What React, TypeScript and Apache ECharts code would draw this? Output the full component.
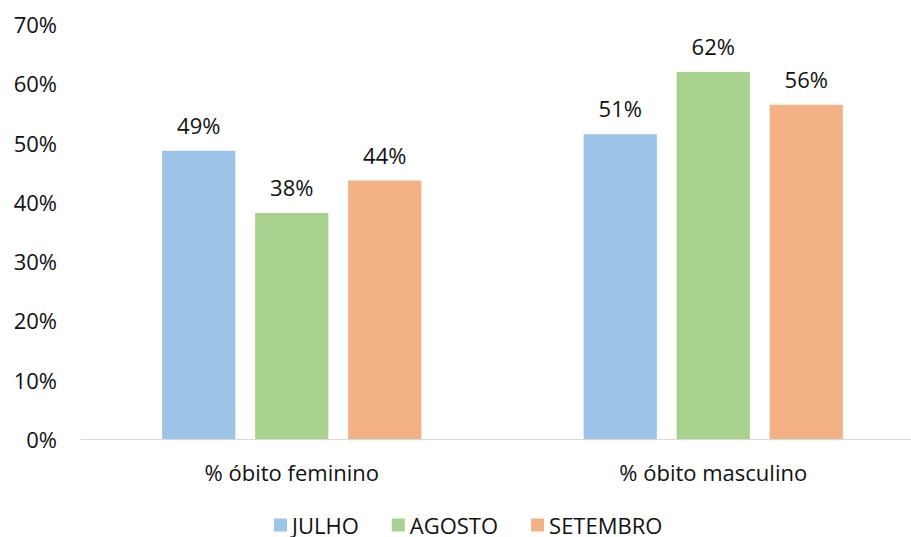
import React, { useEffect, useRef } from "react";
import * as echarts from "echarts";

const categories = ["% óbito feminino", "% óbito masculino"];
const julho = [48.6, 51.4];
const agosto = [38.1, 61.9];
const setembro = [43.6, 56.4];
const yTicks = [0, 10, 20, 30, 40, 50, 60, 70];

const FONT = "'Open Sans', 'Noto Sans', sans-serif";
const TXT = "#111111";
const FS = 22;

export default function App() {
  const ref = useRef<HTMLDivElement>(null);
  useEffect(() => {
    if (!ref.current) return;
    const chart = echarts.init(ref.current, null, { renderer: "svg" });
    const label = {
      show: true,
      position: "top" as const,
      distance: 15,
      formatter: (p: any) => Math.round(p.value) + "%",
      fontSize: FS,
      fontFamily: FONT,
      color: TXT,
    };
    const mk = (name: string, data: number[], color: string) => ({
      name,
      type: "bar",
      data,
      barGap: "27%",
      barCategoryGap: "38.5%",
      itemStyle: { color },
      label,
    });
    chart.setOption({
      animation: false,
      textStyle: { fontFamily: FONT },
      grid: { left: 81, right: -13, top: 24, bottom: 98, outerBoundsMode: "none" },
      legend: {
        top: 514,
        left: 274,
        padding: 0,
        itemWidth: 13,
        itemHeight: 13,
        itemGap: 33,
        icon: "rect",
        textStyle: { fontSize: FS, fontFamily: FONT, color: TXT },
        data: ["JULHO", "AGOSTO", "SETEMBRO"],
      },
      xAxis: {
        type: "category",
        data: categories,
        axisLine: { lineStyle: { color: "#d9d9d9", width: 1 } },
        axisTick: { show: false },
        axisLabel: { fontSize: FS, fontFamily: FONT, color: TXT, margin: 22 },
      },
      yAxis: {
        type: "value",
        min: yTicks[0],
        max: yTicks[yTicks.length - 1],
        interval: 10,
        splitLine: { show: false },
        axisLine: { show: false },
        axisTick: { show: false },
        axisLabel: {
          fontSize: FS,
          fontFamily: FONT,
          color: TXT,
          margin: 24,
          formatter: (v: number) => v + "%",
        },
      },
      series: [
        mk("JULHO", julho, "#9dc3e6"),
        mk("AGOSTO", agosto, "#a9d18e"),
        mk("SETEMBRO", setembro, "#f4b183"),
      ],
    });
    return () => chart.dispose();
  }, []);
  return (
    <div
      ref={ref}
      style={{ position: "absolute", left: 0, top: 0, width: 911, height: 537, background: "#fff" }}
    />
  );
}
